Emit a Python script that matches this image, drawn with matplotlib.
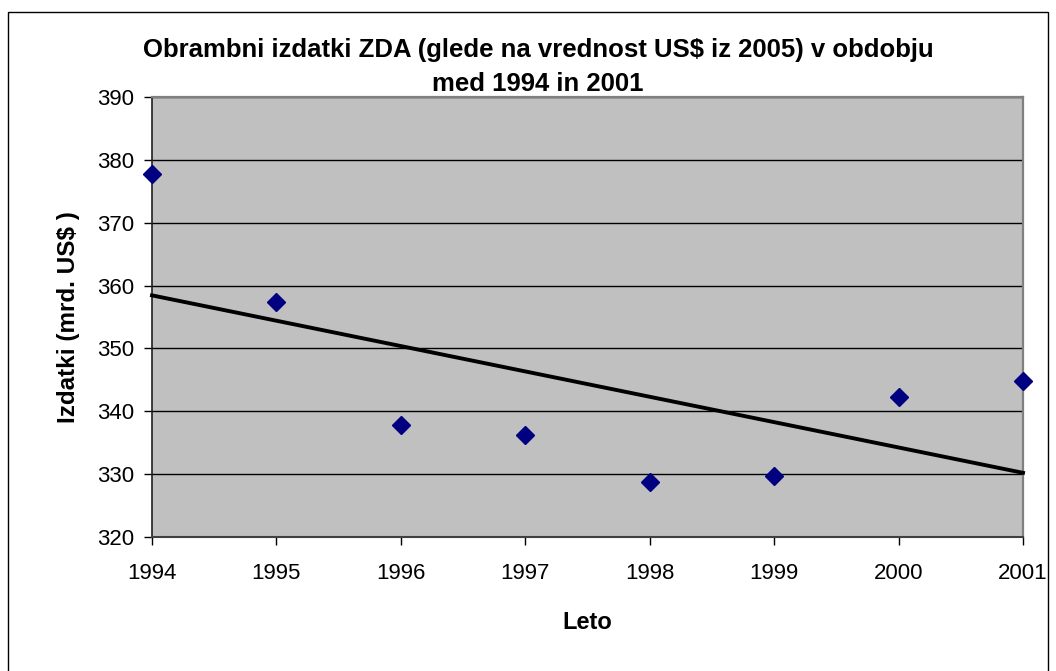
import matplotlib
matplotlib.use("Agg")
import matplotlib.pyplot as plt
import numpy as np
from matplotlib.patches import Rectangle

years = [1994, 1995, 1996, 1997, 1998, 1999, 2000, 2001]
spending = [377.8, 357.4, 337.8, 336.2, 328.7, 329.7, 342.2, 344.8]
y_ticks = [320, 330, 340, 350, 360, 370, 380, 390]
title_lines = ['Obrambni izdatki ZDA (glede na vrednost US$ iz 2005) v obdobju',
               'med 1994 in 2001']

plt.rcParams['font.family'] = ['Liberation Sans', 'DejaVu Sans']

W, H = 1056, 671
fig = plt.figure(figsize=(W / 100, H / 100), dpi=100)
fig.patch.set_facecolor('white')

# outer chart border
fig.add_artist(Rectangle((8 / W, -0.05), (1048 - 8) / W, 1.05 - 12 / H,
                         transform=fig.transFigure, fill=False,
                         edgecolor='black', linewidth=1.0))

left, right, top, bottom = 152, 1023, 97, 537
ax = fig.add_axes([left / W, 1 - bottom / H, (right - left) / W, (bottom - top) / H])
ax.set_facecolor('#C0C0C0')

ax.set_xlim(years[0], years[-1])
ax.set_ylim(y_ticks[0], y_ticks[-1])
ax.set_xticks(years)
ax.set_yticks(y_ticks)
ax.yaxis.grid(True, color='black', linewidth=1.0)
ax.set_axisbelow(True)

x = np.array(years, dtype=float)
y = np.array(spending)
coef = np.polyfit(x, y, 1)
ax.plot(x, np.polyval(coef, x), color='black', linewidth=2.8, zorder=3, clip_on=False)
ax.plot(years, spending, linestyle='none', marker='D', markersize=9.5,
        color='#000080', zorder=4, clip_on=False)

for s in ['top', 'right']:
    ax.spines[s].set_color('#808080')
    ax.spines[s].set_linewidth(1.6)
ax.spines['bottom'].set_color('#404040')
ax.spines['bottom'].set_linewidth(1.5)
ax.spines['left'].set_color('#202020')
ax.spines['left'].set_linewidth(1.2)

ax.tick_params(axis='both', direction='out', labelsize=16, colors='black')
ax.tick_params(axis='x', length=6, width=1, pad=13)
ax.tick_params(axis='y', length=6, width=1, pad=7)

ax.set_xlabel('Leto', fontsize=17, fontweight='bold', labelpad=19)
ax.set_ylabel('Izdatki (mrd. US$ )', fontsize=17.5, fontweight='bold', labelpad=12)

cx = 538 / W
fig.text(cx, 1 - 50 / H, title_lines[0], ha='center', va='center',
         fontsize=18.5, fontweight='bold')
fig.text(cx, 1 - 84 / H, title_lines[1], ha='center', va='center',
         fontsize=18.5, fontweight='bold')

fig.savefig('out.png', dpi=100)
